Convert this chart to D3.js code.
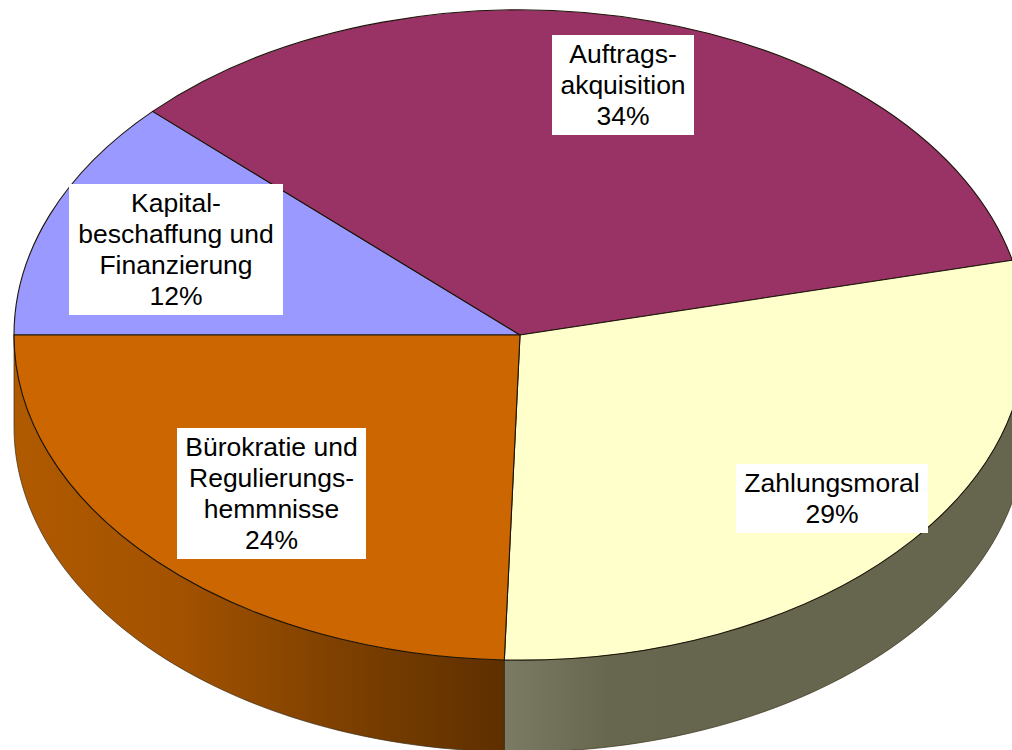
<!DOCTYPE html>
<html><head><meta charset="utf-8">
<script src="https://cdn.jsdelivr.net/npm/d3@7"></script>
<style>html,body{margin:0;padding:0;background:#fff;overflow:hidden}svg{display:block}</style>
</head><body><svg id="c" width="1012" height="750"></svg>
<script>
const categories = ["Kapital-beschaffung und Finanzierung","Auftragsakquisition","Zahlungsmoral","Bürokratie und Regulierungshemmnisse"];
const values = [12, 34, 29, 24.35];
const percentLabels = ["12%","34%","29%","24%"];
const labelLines = [
  ["Kapital-","beschaffung und","Finanzierung","12%"],
  ["Auftrags-","akquisition","34%"],
  ["Zahlungsmoral","29%"],
  ["Bürokratie und","Regulierungs-","hemmnisse","24%"]
];
const colors = ["#9999ff","#993366","#ffffcc","#cc6600"];
const sideStops = [
  ["#66667f","#66667f"],
  ["#4d1a33","#4d1a33"],
  ["#7b7b63","#67674f","#66664f","#66664f","#66664f","#66664f"],
  ["#b05a00","#a35200","#7d4000","#5e2f00"]
];
// label box centres (page pixels)
const labelCx = [176, 623, 832, 271.5];
const labelCy = [249.5, 85, 498.5, 493.5];
const boxW = [214, 142, 192, 189];

const cx = 520, cy = 335, rx = 506, ry = 325, depth = 92, fs = 26.5, lh = 30.8;
const svg = d3.select("#c");
const defs = svg.append("defs");
const pie = d3.pie().sort(null).startAngle(1.5*Math.PI).endAngle(3.5*Math.PI);
const arcs = pie(values);
const xS = d3.scaleLinear().domain([-1,1]).range([cx-rx,cx+rx]);
const yS = d3.scaleLinear().domain([-1,1]).range([cy-ry,cy+ry]);
const px = a => xS(Math.sin(a)), py = a => yS(-Math.cos(a));
const edge = "#1c1408";

// side wall: only the part of each slice on the near half (angle pi/2..3pi/2)
function sideSpans(d){
  const out=[];
  for (const k of [0,2*Math.PI]) {
    const a=Math.max(d.startAngle,Math.PI/2+k), b=Math.min(d.endAngle,1.5*Math.PI+k);
    if (b>a) out.push([a,b]);
  }
  return out;
}
arcs.forEach((d,i)=>{
  sideSpans(d).forEach(([a,b],j)=>{
    const id=`g${i}${j}`;
    const gr=defs.append("linearGradient").attr("id",id).attr("gradientUnits","userSpaceOnUse")
      .attr("x1",Math.min(px(a),px(b))).attr("x2",Math.max(px(a),px(b))).attr("y1",0).attr("y2",0);
    const st=sideStops[i];
    st.forEach((c,k)=>gr.append("stop").attr("offset",k/(st.length-1)).attr("stop-color",c));
    const as=d3.range(0,61).map(t=>a+(b-a)*t/60);
    const upper=as.map(t=>[px(t),py(t)]);
    const lower=as.slice().reverse().map(t=>[px(t),py(t)+depth]);
    svg.append("path").attr("d",d3.line()(upper.concat(lower))+"Z")
      .attr("fill",`url(#${id})`).attr("stroke","#3a2c18").attr("stroke-width",0.7).attr("stroke-linejoin","round");
  });
});

// top face
const arcGen=d3.arc().innerRadius(0).outerRadius(1);
const face=svg.append("g").attr("transform",`translate(${cx},${cy}) scale(${rx},${ry})`);
face.selectAll("path").data(arcs).join("path")
  .attr("d",arcGen).attr("fill",(d,i)=>colors[i])
  .attr("stroke",edge).attr("stroke-width",1.1).attr("vector-effect","non-scaling-stroke").attr("stroke-linejoin","round");

// labels
labelLines.forEach((lines,i)=>{
  const h=lines.length*31+7;
  svg.append("rect").attr("x",labelCx[i]-boxW[i]/2).attr("y",labelCy[i]-h/2)
    .attr("width",boxW[i]).attr("height",h).attr("fill","#fff");
  const t=svg.append("text").attr("text-anchor","middle")
    .attr("font-family","'Liberation Sans',Arial,sans-serif").attr("font-size",fs).attr("fill","#000");
  lines.forEach((s,k)=>t.append("tspan").attr("x",labelCx[i])
    .attr("y",labelCy[i]+(k-(lines.length-1)/2)*lh+9).text(s));
});
</script></body></html>
